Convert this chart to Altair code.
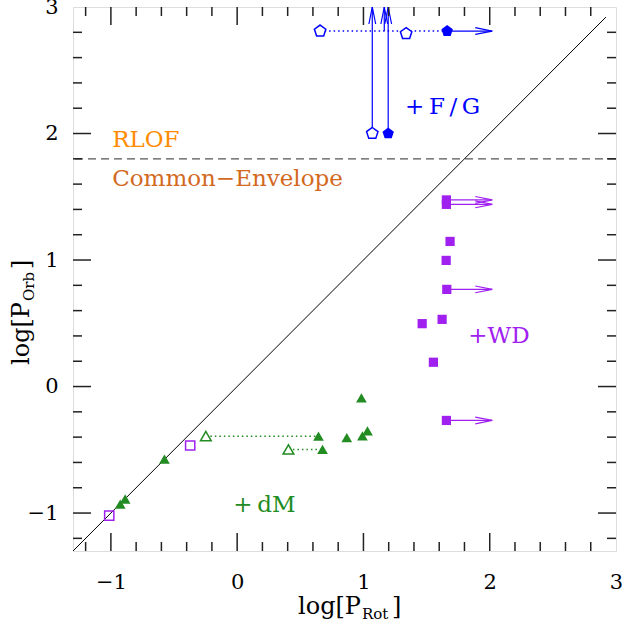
import altair as alt
import pandas as pd

# ---------------- data ----------------
fg_open_x = [0.657, 1.338, 1.07]
fg_open_y = [2.81, 2.79, 2.0]
fg_fill_x = [1.663, 1.196]
fg_fill_y = [2.81, 2.0]

wd_fill_x = [1.657, 1.657, 1.686, 1.655, 1.66, 1.465, 1.623, 1.554, 1.657]
wd_fill_y = [1.475, 1.44, 1.147, 0.997, 0.768, 0.497, 0.531, 0.192, -0.268]
wd_open_x = [-0.372, -1.013]
wd_open_y = [-0.466, -1.02]

dm_fill_x = [-0.576, -0.926, -0.887, 0.644, 0.676, 0.868, 0.984, 0.992, 1.032]
dm_fill_y = [-0.574, -0.929, -0.889, -0.392, -0.497, -0.403, -0.09, -0.39, -0.35]
dm_open_x = [-0.248, 0.406]
dm_open_y = [-0.392, -0.497]

# dotted links (x start, x end, y, group)
link_x1 = [0.657, -0.248, 0.406]
link_x2 = [1.663, 0.644, 0.676]
link_y = [2.81, -0.392, -0.497]
link_grp = ["FG", "dM", "dM"]

# lower limits on P_rot (right arrows)
rarr_x1 = [1.663, 1.657, 1.657, 1.66, 1.657]
rarr_x2 = [2.02, 2.02, 2.02, 2.02, 2.02]
rarr_y = [2.81, 1.475, 1.44, 0.768, -0.268]
rarr_grp = ["FG", "WD", "WD", "WD", "WD"]

# lower limits on P_orb (up arrows)
uarr_x = [1.07, 1.196, 1.165]
uarr_y1 = [2.0, 2.0, 2.81]
uarr_y2 = [3.0, 3.0, 3.0]

diag_x = [-1.3, 2.92]
diag_y = [-1.3, 2.92]
ce_limit = [1.8]

label_text = ["RLOF", "Common\u2212Envelope", "+\u2009F\u2009/\u2009G", "+WD", "+\u2009dM"]
label_x = [-0.99, -0.99, 1.33, 1.83, -0.03]
label_y = [1.95, 1.64, 2.21, 0.40, -0.94]
label_col = ["#FF8C00", "#D2691E", "#0000FF", "#A020F0", "#228B22"]

major_ticks = [-1, 0, 1, 2]
minor_ticks = [-1.2, -0.8, -0.6, -0.4, -0.2, 0.2, 0.4, 0.6, 0.8, 1.2, 1.4, 1.6, 1.8,
               2.2, 2.4, 2.6, 2.8]
axis_vals = [-1, 0, 1, 2, 3]

# ---------------- styling ----------------
W, H = 543, 544
BLUE, PURPLE, GREEN = "#0000FF", "#A020F0", "#228B22"
FONT = "DejaVu Serif"
grp_dom = ["FG", "WD", "dM"]
grp_rng = [BLUE, PURPLE, GREEN]

PENT = "M0,-1L0.951,-0.309L0.588,0.809L-0.588,0.809L-0.951,-0.309Z"
ARROW_R = "M-1,-0.2L0,0L-1,0.2"
ARROW_U = "M-0.2,1L0,0L0.2,1"

xs = alt.Scale(domain=[-1.3, 3], nice=False, zero=False)
ys = alt.Scale(domain=[-1.3, 3], nice=False, zero=False)

xax = alt.Axis(values=axis_vals, title=None, grid=False, ticks=False, tickSize=0, domain=False,
               labelFont=FONT, labelFontSize=21, labelPadding=20, labelColor="black",
               labelOverlap=False, labelFlush=False)
yax = alt.Axis(values=axis_vals, title=None, grid=False, ticks=False, tickSize=0, domain=False,
               labelFont=FONT, labelFontSize=21, labelPadding=15, labelColor="black",
               labelOverlap=False, labelFlush=False)

X = lambda f: alt.X(f, type="quantitative", scale=xs, axis=xax)
Y = lambda f: alt.Y(f, type="quantitative", scale=ys, axis=yax)

layers = []

# diagonal P_orb = P_rot
diag = pd.DataFrame({"x": diag_x, "y": diag_y})
layers.append(alt.Chart(diag).mark_line(color="black", strokeWidth=1).encode(x=X("x"), y=Y("y")))

# common envelope limit
ce = pd.DataFrame({"y": ce_limit})
layers.append(alt.Chart(ce).mark_rule(color="#555555", strokeWidth=1.3, strokeDash=[8, 5])
              .encode(y=Y("y")))

# dotted links
links = pd.DataFrame({"x1": link_x1, "x2": link_x2, "y": link_y, "g": link_grp})
layers.append(alt.Chart(links).mark_rule(strokeWidth=1.5, strokeDash=[1.5, 3]).encode(
    x=X("x1"), x2="x2", y=Y("y"),
    color=alt.Color("g:N", scale=alt.Scale(domain=grp_dom, range=grp_rng), legend=None)))

# right arrows
ra = pd.DataFrame({"x1": rarr_x1, "x2": rarr_x2, "y": rarr_y, "g": rarr_grp})
layers.append(alt.Chart(ra).mark_rule(strokeWidth=1.2).encode(
    x=X("x1"), x2="x2", y=Y("y"),
    color=alt.Color("g:N", scale=alt.Scale(domain=grp_dom, range=grp_rng), legend=None)))
layers.append(alt.Chart(ra).mark_point(shape=ARROW_R, size=1156, filled=False, strokeWidth=1.2,
                                       opacity=1).encode(
    x=X("x2"), y=Y("y"),
    color=alt.Color("g:N", scale=alt.Scale(domain=grp_dom, range=grp_rng), legend=None)))

# up arrows
ua = pd.DataFrame({"x": uarr_x, "y1": uarr_y1, "y2": uarr_y2})
layers.append(alt.Chart(ua).mark_rule(color=BLUE, strokeWidth=1.2).encode(
    x=X("x"), y=Y("y1"), y2="y2"))
layers.append(alt.Chart(ua).mark_point(shape=ARROW_U, size=1156, filled=False, strokeWidth=1.2,
                                       color=BLUE, opacity=1).encode(x=X("x"), y=Y("y2")))

# F/G stars
fgo = pd.DataFrame({"x": fg_open_x, "y": fg_open_y})
fgf = pd.DataFrame({"x": fg_fill_x, "y": fg_fill_y})
layers.append(alt.Chart(fgo).mark_point(shape=PENT, size=144, filled=False, color=BLUE,
                                        fill="white", fillOpacity=1, strokeWidth=1.5, opacity=1)
              .encode(x=X("x"), y=Y("y")))
layers.append(alt.Chart(fgf).mark_point(shape=PENT, size=144, filled=True, color=BLUE, opacity=1)
              .encode(x=X("x"), y=Y("y")))

# WD
wdf = pd.DataFrame({"x": wd_fill_x, "y": wd_fill_y})
wdo = pd.DataFrame({"x": wd_open_x, "y": wd_open_y})
layers.append(alt.Chart(wdf).mark_point(shape="square", size=85, filled=True, color=PURPLE, opacity=1)
              .encode(x=X("x"), y=Y("y")))
layers.append(alt.Chart(wdo).mark_point(shape="square", size=85, filled=False, color=PURPLE,
                                        strokeWidth=1.5, opacity=1)
              .encode(x=X("x"), y=Y("y")))

# dM
dmf = pd.DataFrame({"x": dm_fill_x, "y": dm_fill_y})
dmo = pd.DataFrame({"x": dm_open_x, "y": dm_open_y})
layers.append(alt.Chart(dmf).mark_point(shape="triangle-up", size=115, filled=True, color=GREEN, opacity=1)
              .encode(x=X("x"), y=Y("y")))
layers.append(alt.Chart(dmo).mark_point(shape="triangle-up", size=115, filled=False, color=GREEN,
                                        fill="white", fillOpacity=1, strokeWidth=1.5, opacity=1)
              .encode(x=X("x"), y=Y("y")))

# annotations
lab = pd.DataFrame({"x": label_x, "y": label_y, "t": label_text, "c": label_col})
layers.append(alt.Chart(lab).mark_text(font=FONT, fontSize=23, align="left", baseline="middle")
              .encode(x=X("x"), y=Y("y"), text="t:N", color=alt.Color("c:N", scale=None)))

# inward ticks on all four sides
tk_major = pd.DataFrame({"v": major_ticks})
tk_minor = pd.DataFrame({"v": minor_ticks})
for df, L in ((tk_major, 18), (tk_minor, 9)):
    base = alt.Chart(df).mark_rule(color="#222222", strokeWidth=1.5)
    layers.append(base.encode(x=X("v"), y=alt.value(H), y2=alt.value(H - L)))
    layers.append(base.encode(x=X("v"), y=alt.value(0), y2=alt.value(L)))
    layers.append(base.encode(y=Y("v"), x=alt.value(0), x2=alt.value(L)))
    layers.append(base.encode(y=Y("v"), x=alt.value(W), x2=alt.value(W - L)))

# axis titles with subscripts
xt = pd.DataFrame({"a": ["log[P"], "b": ["Rot"], "c": ["]"]})
tbase = alt.Chart(xt)
layers.append(tbase.mark_text(font=FONT, fontSize=24, align="right", baseline="alphabetic",
                              color="black").encode(text="a:N", x=alt.value(288), y=alt.value(607)))
layers.append(tbase.mark_text(font=FONT, fontSize=15, align="left", baseline="alphabetic",
                              color="black").encode(text="b:N", x=alt.value(289), y=alt.value(612)))
layers.append(tbase.mark_text(font=FONT, fontSize=24, align="left", baseline="alphabetic",
                              color="black").encode(text="c:N", x=alt.value(319), y=alt.value(607)))

yt = pd.DataFrame({"a": ["log[P"], "b": ["Orb"], "c": ["]"]})
ybase = alt.Chart(yt)
layers.append(ybase.mark_text(font=FONT, fontSize=24, align="right", baseline="alphabetic", angle=270,
                              color="black").encode(text="a:N", x=alt.value(-44), y=alt.value(295)))
layers.append(ybase.mark_text(font=FONT, fontSize=15, align="left", baseline="alphabetic", angle=270,
                              color="black").encode(text="b:N", x=alt.value(-39), y=alt.value(294)))
layers.append(ybase.mark_text(font=FONT, fontSize=24, align="left", baseline="alphabetic", angle=270,
                              color="black").encode(text="c:N", x=alt.value(-44), y=alt.value(262)))

chart = alt.layer(*layers).properties(
    width=W, height=H,
    padding={"left": 73, "top": 7, "right": 10, "bottom": 75},
    autosize=alt.AutoSizeParams(type="none"),
).configure_view(stroke="black", strokeWidth=2).configure(background="white")

chart.save("out.html", embed_options={"renderer": "svg", "actions": False})
